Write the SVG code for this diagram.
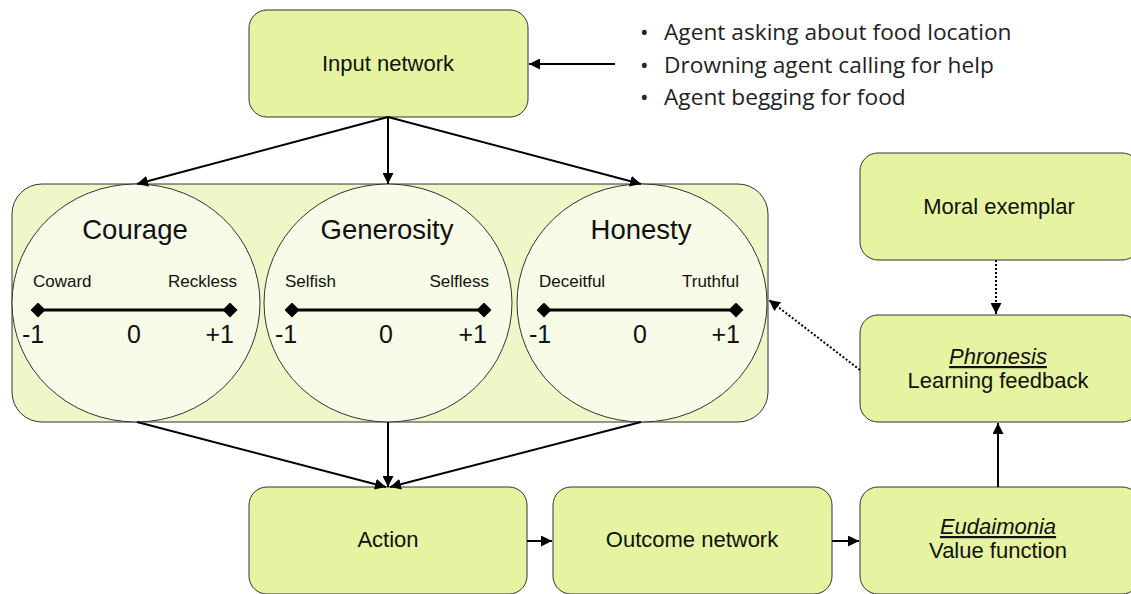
<svg xmlns="http://www.w3.org/2000/svg" width="1131" height="594" viewBox="0 0 1131 594">
<defs>
<style>
.box{fill:#e6f3a0;stroke:#333;stroke-width:1}
.cont{fill:#eef7c8;stroke:#333;stroke-width:1}
.circ{fill:#f7fbe7;stroke:#333;stroke-width:1}
.t{font-family:"Liberation Sans",Arial,sans-serif;fill:#111;text-anchor:middle}
.lbl{font-size:22px}
.title{font-size:27.5px}
.pole{font-size:17px}
.num{font-size:25px}
.bul{font-family:"Open Sans","Liberation Sans",sans-serif;font-size:22.7px;fill:#222}
.con{stroke:#000;stroke-width:2;fill:none}
.dot{stroke:#000;stroke-width:2;fill:none;stroke-dasharray:2 2}
.scale{stroke:#000;stroke-width:3}
</style>
<marker id="ah" viewBox="0 0 10 10" refX="10" refY="5" markerWidth="11" markerHeight="11" markerUnits="userSpaceOnUse" orient="auto">
<path d="M0,0 L10,5 L0,10 z" fill="#000"/>
</marker>
<marker id="dm" viewBox="0 0 10 10" refX="5" refY="5" markerWidth="15" markerHeight="15" markerUnits="userSpaceOnUse" orient="auto">
<path d="M0,5 L5,0 L10,5 L5,10 z" fill="#000"/>
</marker>
</defs>
<rect width="1131" height="594" fill="#fff"/>

<g id="input-network">
<rect class="box" x="249" y="10" width="279" height="107" rx="18"/>
<text class="t lbl" x="388" y="71">Input network</text>
</g>

<g id="inputs-list">
<text class="bul" x="640" y="40">•</text><text class="bul" x="664" y="40">Agent asking about food location</text>
<text class="bul" x="640" y="73">•</text><text class="bul" x="664" y="73">Drowning agent calling for help</text>
<text class="bul" x="640" y="105">•</text><text class="bul" x="664" y="105">Agent begging for food</text>
</g>

<g id="virtues">
<rect class="cont" x="12" y="184" width="756" height="238" rx="30"/>
</g>

<g id="courage">
<ellipse class="circ" cx="136" cy="303" rx="124" ry="119"/>
<text class="t title" x="135" y="239">Courage</text>
<text class="t pole" x="33" y="287" style="text-anchor:start">Coward</text>
<text class="t pole" x="237" y="287" style="text-anchor:end">Reckless</text>
<line class="scale" x1="38" y1="310" x2="230" y2="310" marker-start="url(#dm)" marker-end="url(#dm)"/>
<text class="t num" x="22" y="343" style="text-anchor:start">-1</text>
<text class="t num" x="134" y="343">0</text>
<text class="t num" x="234" y="343" style="text-anchor:end">+1</text>
</g>

<g id="generosity">
<ellipse class="circ" cx="388" cy="303" rx="124" ry="119"/>
<text class="t title" x="387" y="239">Generosity</text>
<text class="t pole" x="285" y="287" style="text-anchor:start">Selfish</text>
<text class="t pole" x="489" y="287" style="text-anchor:end">Selfless</text>
<line class="scale" x1="292" y1="310" x2="484" y2="310" marker-start="url(#dm)" marker-end="url(#dm)"/>
<text class="t num" x="275" y="343" style="text-anchor:start">-1</text>
<text class="t num" x="386" y="343">0</text>
<text class="t num" x="487" y="343" style="text-anchor:end">+1</text>
</g>

<g id="honesty">
<ellipse class="circ" cx="642" cy="303" rx="125" ry="119"/>
<text class="t title" x="641" y="239">Honesty</text>
<text class="t pole" x="539" y="287" style="text-anchor:start">Deceitful</text>
<text class="t pole" x="739" y="287" style="text-anchor:end">Truthful</text>
<line class="scale" x1="544" y1="310" x2="736" y2="310" marker-start="url(#dm)" marker-end="url(#dm)"/>
<text class="t num" x="529" y="343" style="text-anchor:start">-1</text>
<text class="t num" x="640" y="343">0</text>
<text class="t num" x="740" y="343" style="text-anchor:end">+1</text>
</g>

<g id="moral-exemplar">
<rect class="box" x="860" y="153" width="280" height="107" rx="18"/>
<text class="t lbl" x="999" y="214">Moral exemplar</text>
</g>

<g id="phronesis">
<rect class="box" x="860" y="315" width="280" height="107" rx="18"/>
<text class="t lbl" x="998" y="364" font-style="italic" text-decoration="underline">Phronesis</text>
<text class="t lbl" x="998" y="388">Learning feedback</text>
</g>

<g id="action">
<rect class="box" x="249" y="487" width="278" height="107" rx="18"/>
<text class="t lbl" x="388" y="547">Action</text>
</g>

<g id="outcome-network">
<rect class="box" x="553" y="487" width="279" height="107" rx="18"/>
<text class="t lbl" x="692" y="547">Outcome network</text>
</g>

<g id="eudaimonia">
<rect class="box" x="860" y="487" width="280" height="107" rx="18"/>
<text class="t lbl" x="998" y="534" font-style="italic" text-decoration="underline">Eudaimonia</text>
<text class="t lbl" x="998" y="558">Value function</text>
</g>

<g id="connectors">
<line class="con" x1="615" y1="64" x2="529" y2="64" marker-end="url(#ah)"/>
<line class="con" x1="388" y1="117" x2="137" y2="184" marker-end="url(#ah)"/>
<line class="con" x1="388" y1="117" x2="388" y2="184" marker-end="url(#ah)"/>
<line class="con" x1="388" y1="117" x2="641" y2="184" marker-end="url(#ah)"/>
<line class="con" x1="137" y1="422" x2="386" y2="487" marker-end="url(#ah)"/>
<line class="con" x1="388" y1="422" x2="388" y2="487" marker-end="url(#ah)"/>
<line class="con" x1="641" y1="422" x2="390" y2="487" marker-end="url(#ah)"/>
<line class="con" x1="527" y1="541" x2="552" y2="541" marker-end="url(#ah)"/>
<line class="con" x1="832" y1="541" x2="859" y2="541" marker-end="url(#ah)"/>
<line class="con" x1="998" y1="487" x2="998" y2="423" marker-end="url(#ah)"/>
<line class="dot" x1="996" y1="260" x2="996" y2="314" marker-end="url(#ah)"/>
<line class="dot" x1="860" y1="370" x2="769" y2="300" marker-end="url(#ah)"/>
</g>
</svg>
